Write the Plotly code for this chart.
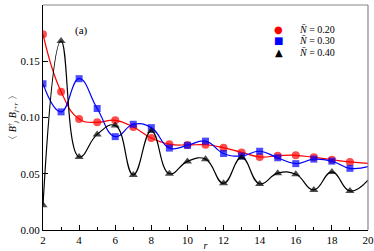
import plotly.graph_objects as go

r = [2, 3, 4, 5, 6, 7, 8, 9, 10, 11, 12, 13, 14, 15, 16, 17, 18, 19, 20]
red_vals = [0.174, 0.123, 0.0987, 0.0957, 0.0975, 0.0915, 0.0818, 0.0763, 0.0756, 0.0758,
            0.0732, 0.069, 0.065, 0.066, 0.0664, 0.0646, 0.0625, 0.0605, 0.0593]
blue_vals = [0.130, 0.105, 0.1345, 0.108, 0.083, 0.094, 0.091, 0.0728, 0.0752, 0.079,
             0.068, 0.0658, 0.070, 0.0642, 0.059, 0.063, 0.0612, 0.0548, 0.0563]
black_vals = [0.022, 0.168, 0.065, 0.085, 0.093, 0.049, 0.088, 0.050, 0.061, 0.063,
              0.0415, 0.0645, 0.041, 0.0505, 0.0495, 0.0356, 0.0516, 0.0347, 0.0444]
names = ["<i>N̄</i> = 0.20", "<i>N̄</i> = 0.30", "<i>N̄</i> = 0.40"]
legend_glyphs = ["●", "■", "▲"]
x_ticks = [2, 4, 6, 8, 10, 12, 14, 16, 18, 20]
y_ticks = [0.00, 0.05, 0.10, 0.15, 0.20]

series = [
    (red_vals, "#ff0000", "circle", 8),
    (blue_vals, "#0000ff", "square", 7),
    (black_vals, "#000000", "triangle-up", 8),
]

SERIF = "Liberation Serif, Times New Roman, serif"

fig = go.Figure()
for (vals, col, sym, sz), nm in zip(series, names):
    sizes = [sz] * (len(r) - 1) + [0]
    fig.add_trace(go.Scatter(
        x=r, y=vals, mode="lines+markers", name=nm, showlegend=False,
        line=dict(color=col, width=1.2, shape="spline", smoothing=1.3),
        marker=dict(color=col, symbol=sym, size=sizes, line=dict(width=0)),
    ))

# legend drawn as text rows
legend_y = [0.893, 0.844, 0.791]
for (vals, col, sym, sz), nm, g, ly in zip(series, names, legend_glyphs, legend_y):
    fig.add_annotation(x=0.726, y=ly, xref="paper", yref="paper", text=g,
                       showarrow=False, xanchor="center", yanchor="middle",
                       font=dict(size=10, color=col, family="DejaVu Sans"))
    fig.add_annotation(x=0.7815, y=ly, xref="paper", yref="paper", text=nm,
                       showarrow=False, xanchor="left", yanchor="middle",
                       font=dict(size=10, color="black"))

fig.add_annotation(x=0.093, y=0.925, xref="paper", yref="paper", text="(a)",
                   showarrow=False, font=dict(size=11, color="black"))

# top and right frame lines
fig.add_shape(type="line", xref="paper", yref="paper", x0=0, x1=1, y0=1, y1=1,
              line=dict(color="#888888", width=1.2))
fig.add_shape(type="line", xref="paper", yref="paper", x0=1, x1=1, y0=0, y1=1,
              line=dict(color="#888888", width=1.2))

fig.update_layout(
    width=374, height=251,
    margin=dict(l=43, r=6, t=5, b=21),
    paper_bgcolor="white", plot_bgcolor="white",
    font=dict(family=SERIF, size=11, color="black"),
    showlegend=False,
    xaxis=dict(range=[2, 20], tickvals=x_ticks, ticks="inside", ticklen=5,
               showgrid=False, zeroline=False, showline=True, linecolor="black",
               linewidth=1.2, tickcolor="black", automargin=False,
               minor=dict(dtick=1, ticks="inside", ticklen=3, tickcolor="black"),
               title=dict(text="<i>r</i>", standoff=1, font=dict(size=10))),
    yaxis=dict(range=[0, 0.20], tickvals=y_ticks, tickformat=".2f", ticks="inside",
               ticklen=5, showgrid=False, zeroline=False, showline=True,
               linecolor="black", linewidth=1.2, tickcolor="black", automargin=False,
               title=dict(text="〈 <i>B</i><sup>†</sup><sub><i>j</i></sub> <i>B</i><sub><i>j+r</i></sub> 〉",
                          standoff=0, font=dict(size=10))),
)

fig.write_html("out.html", config={"displayModeBar": False},
               post_script="document.body.style.margin='0px';document.body.style.overflow='hidden';")
